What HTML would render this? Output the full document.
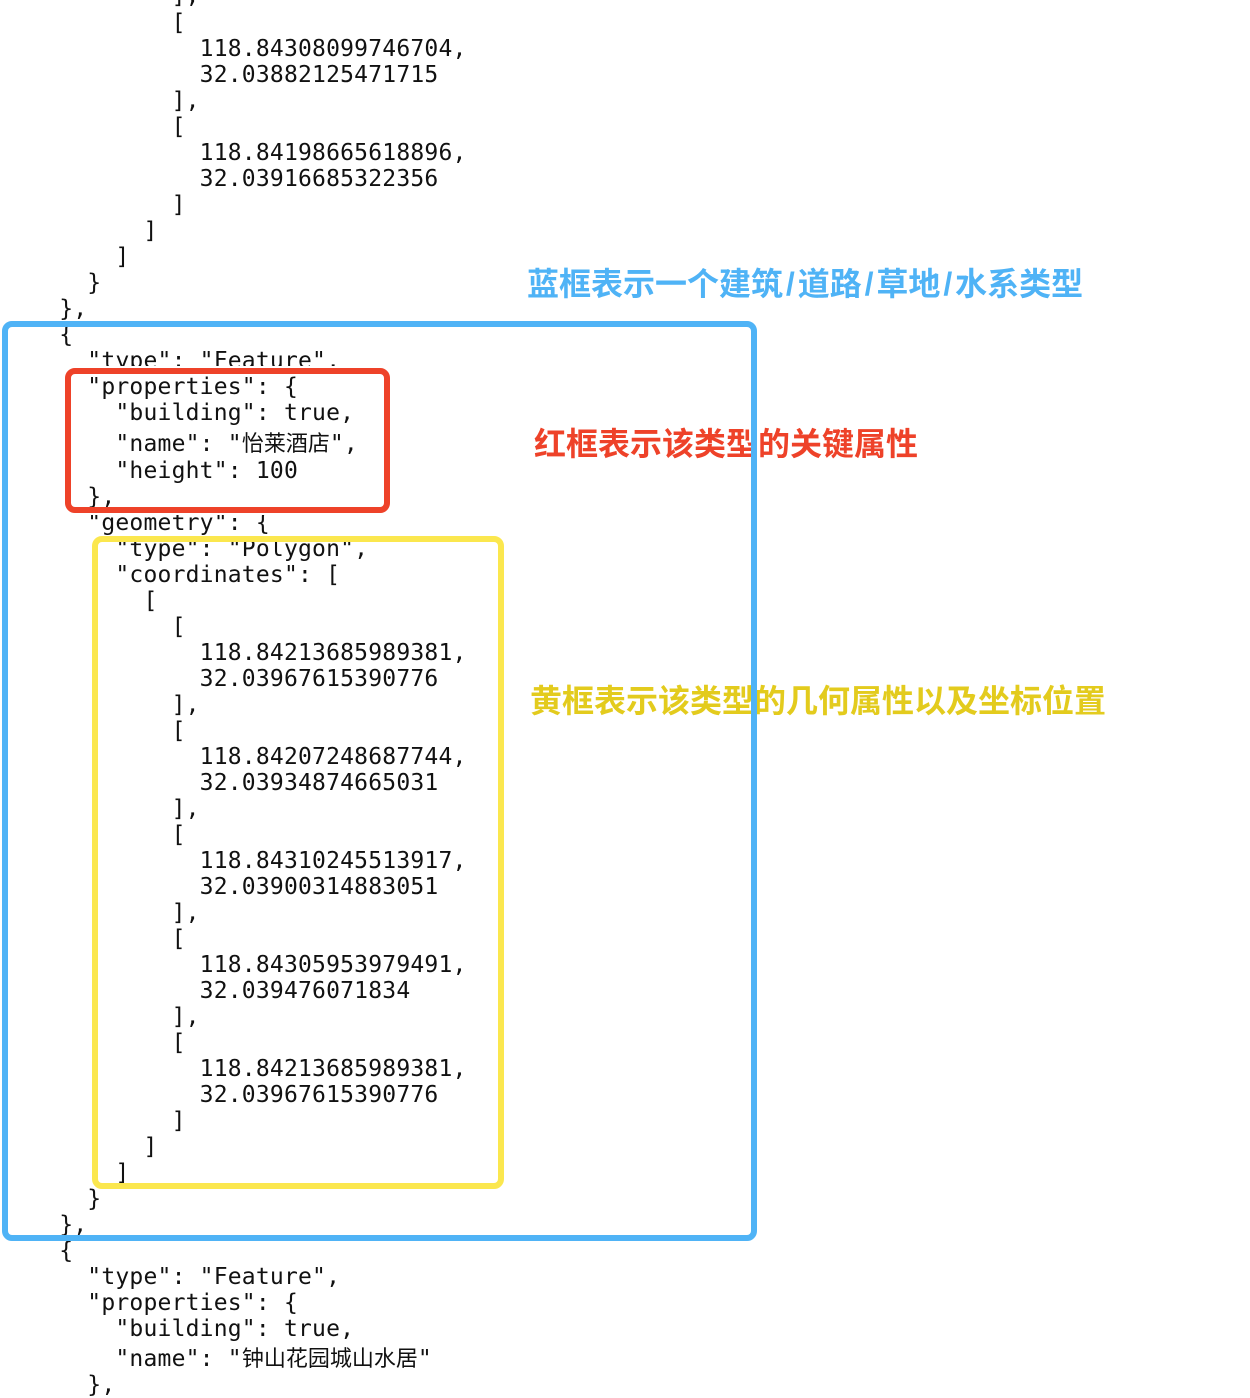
<!DOCTYPE html>
<html>
<head>
<meta charset="utf-8">
<style>
  html, body { margin:0; padding:0; background:#fff; }
  body { width:1250px; height:1398px; position:relative; overflow:hidden; }
  .c { position:absolute; left:3px; white-space:pre; font-family:"DejaVu Sans Mono","Noto Sans CJK SC",monospace; font-size:23px; letter-spacing:0.2px; line-height:26px; height:26px; color:#111; }
  .cj { font-family:"Noto Sans CJK SC",sans-serif; font-size:22px; letter-spacing:0; line-height:0; }
  .note { position:absolute; white-space:nowrap; font-family:"Liberation Sans","Noto Sans CJK SC",sans-serif; font-weight:700; font-size:32px; line-height:32px; }
  .sl { display:inline-block; width:14.7px; text-align:center; }
  .box { position:absolute; box-sizing:border-box; border-style:solid; border-width:6px; border-radius:10px; }
</style>
</head>
<body>
<div class="c" style="top:-17px">            ],</div>
<div class="c" style="top:10px">            [</div>
<div class="c" style="top:36px">              118.84308099746704,</div>
<div class="c" style="top:62px">              32.03882125471715</div>
<div class="c" style="top:88px">            ],</div>
<div class="c" style="top:114px">            [</div>
<div class="c" style="top:140px">              118.84198665618896,</div>
<div class="c" style="top:166px">              32.03916685322356</div>
<div class="c" style="top:192px">            ]</div>
<div class="c" style="top:218px">          ]</div>
<div class="c" style="top:244px">        ]</div>
<div class="c" style="top:270px">      }</div>
<div class="c" style="top:296px">    },</div>
<div class="c" style="top:322px">    {</div>
<div class="c" style="top:348px">      "type": "Feature",</div>
<div class="c" style="top:374px">      "properties": {</div>
<div class="c" style="top:400px">        "building": true,</div>
<div class="c" style="top:431px">        "name": "<span class="cj">怡莱酒店</span>",</div>
<div class="c" style="top:458px">        "height": 100</div>
<div class="c" style="top:484px">      },</div>
<div class="c" style="top:510px">      "geometry": {</div>
<div class="c" style="top:536px">        "type": "Polygon",</div>
<div class="c" style="top:562px">        "coordinates": [</div>
<div class="c" style="top:588px">          [</div>
<div class="c" style="top:614px">            [</div>
<div class="c" style="top:640px">              118.84213685989381,</div>
<div class="c" style="top:666px">              32.03967615390776</div>
<div class="c" style="top:692px">            ],</div>
<div class="c" style="top:718px">            [</div>
<div class="c" style="top:744px">              118.84207248687744,</div>
<div class="c" style="top:770px">              32.03934874665031</div>
<div class="c" style="top:796px">            ],</div>
<div class="c" style="top:822px">            [</div>
<div class="c" style="top:848px">              118.84310245513917,</div>
<div class="c" style="top:874px">              32.03900314883051</div>
<div class="c" style="top:900px">            ],</div>
<div class="c" style="top:926px">            [</div>
<div class="c" style="top:952px">              118.84305953979491,</div>
<div class="c" style="top:978px">              32.039476071834</div>
<div class="c" style="top:1004px">            ],</div>
<div class="c" style="top:1030px">            [</div>
<div class="c" style="top:1056px">              118.84213685989381,</div>
<div class="c" style="top:1082px">              32.03967615390776</div>
<div class="c" style="top:1108px">            ]</div>
<div class="c" style="top:1134px">          ]</div>
<div class="c" style="top:1160px">        ]</div>
<div class="c" style="top:1186px">      }</div>
<div class="c" style="top:1212px">    },</div>
<div class="c" style="top:1238px">    {</div>
<div class="c" style="top:1264px">      "type": "Feature",</div>
<div class="c" style="top:1290px">      "properties": {</div>
<div class="c" style="top:1316px">        "building": true,</div>
<div class="c" style="top:1346px">        "name": "<span class="cj">钟山花园城山水居</span>"</div>
<div class="c" style="top:1372px">      },</div>

<div class="note" style="left:527px; top:268px; color:#4fb3f6;">蓝框表示一个建筑<span class="sl">/</span>道路<span class="sl">/</span>草地<span class="sl">/</span>水系类型</div>
<div class="note" style="left:534px; top:428px; color:#ee4229;">红框表示该类型的关键属性</div>
<div class="note" style="left:530px; top:685px; color:#e3cb1d;">黄框表示该类型的几何属性以及坐标位置</div>

<div class="box" style="left:65px; top:368px; width:325px; height:145px; border-color:#ee4229; box-shadow:0 0 0 2px #fff;"></div>
<div class="box" style="left:92px; top:536px; width:412px; height:653px; border-color:#fbe74e;"></div>
<div class="box" style="left:2px; top:321px; width:755px; height:920px; border-color:#4fb3f6;"></div>
</body>
</html>
